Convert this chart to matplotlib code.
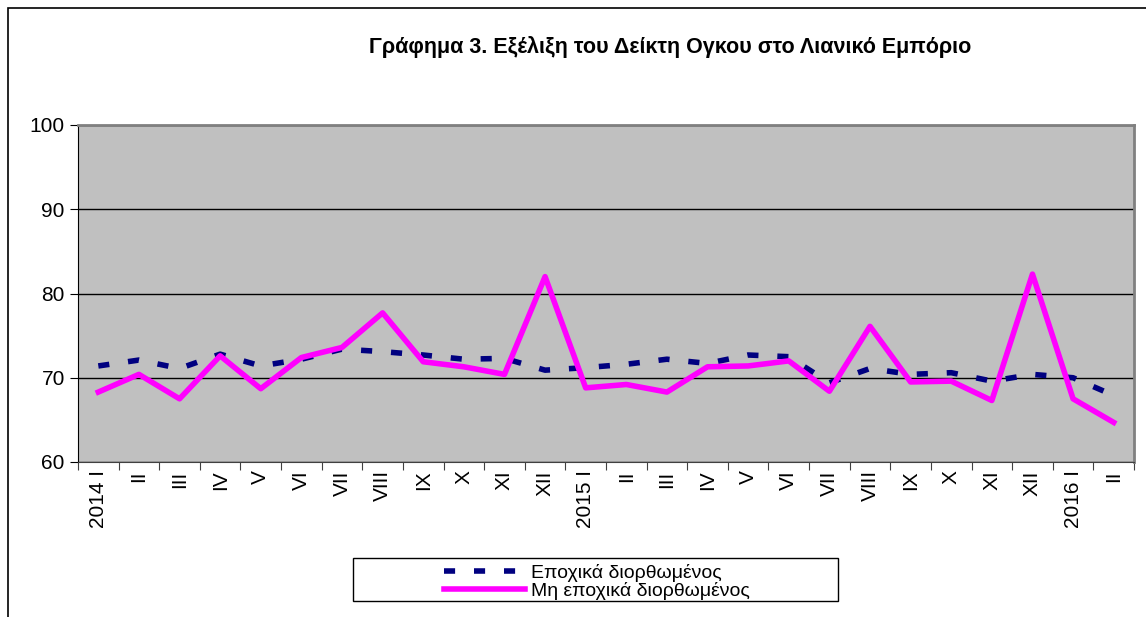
import matplotlib
matplotlib.use("Agg")
import matplotlib.pyplot as plt
from matplotlib.patches import Rectangle

plt.rcParams['font.family'] = ['Liberation Sans', 'DejaVu Sans']

months = ['I', 'II', 'III', 'IV', 'V', 'VI', 'VII', 'VIII', 'IX', 'X', 'XI', 'XII']
labels = ['2014 I'] + months[1:] + ['2015 I'] + months[1:] + ['2016 I', 'II']

# Εποχικά διορθωμένος
adjusted = [71.4, 72.1, 71.1, 72.8, 71.4, 72.2, 73.4, 73.1, 72.7, 72.2, 72.3, 70.9,
            71.2, 71.6, 72.2, 71.7, 72.7, 72.5, 69.4, 71.1, 70.4, 70.6, 69.6, 70.4,
            70.0, 67.9]
# Μη εποχικά διορθωμένος
unadjusted = [68.3, 70.4, 67.5, 72.6, 68.7, 72.4, 73.6, 77.7, 71.9, 71.3, 70.4, 82.0,
              68.8, 69.2, 68.3, 71.3, 71.4, 72.0, 68.4, 76.1, 69.5, 69.6, 67.3, 82.3,
              67.5, 64.7]

fig = plt.figure(figsize=(11.46, 6.17), dpi=100)
ax = fig.add_axes([78 / 1146, 1 - 462 / 617, 1056 / 1146, 337 / 617])
ax.set_facecolor('#c0c0c0')

x = list(range(len(labels)))
ax.plot(x, adjusted, color='#000080', lw=4, ls=(0, (2, 3.4)), label='Εποχικά διορθωμένος')
ax.plot(x, unadjusted, color='#ff00ff', lw=4, label='Μη εποχικά διορθωμένος')

ax.set_xlim(-0.5, len(labels) - 0.5)
ax.set_ylim(60, 100)
ax.set_yticks([60, 70, 80, 90, 100])
ax.yaxis.grid(True, color='black', lw=1)
ax.set_axisbelow(True)

ax.set_xticks([i - 0.5 for i in range(len(labels) + 1)])
ax.set_xticklabels([])
ax.set_xticks(x, minor=True)
ax.set_xticklabels(labels, minor=True, rotation=90, fontsize=15)
ax.tick_params(axis='x', which='major', length=6, direction='out', color='#404040')
ax.tick_params(axis='x', which='minor', length=0, pad=6)
ax.tick_params(axis='y', labelsize=15, length=6, color='black')

for s in ['top', 'right']:
    ax.spines[s].set_color('#808080')
    ax.spines[s].set_linewidth(2)
ax.spines['left'].set_color('black')
ax.spines['bottom'].set_color('#404040')

fig.text(0.585, 1 - 47 / 617, 'Γράφημα 3. Εξέλιξη του Δείκτη Ογκου στο Λιανικό Εμπόριο',
         ha='center', va='center', fontsize=15.5, fontweight='bold')

# legend entries without frame, box drawn separately
leg = ax.legend(loc='upper left', bbox_to_anchor=(434 / 1146, 1 - 554 / 617), bbox_transform=fig.transFigure,
                fontsize=14, frameon=False, handlelength=4.2, labelspacing=0.0,
                borderpad=0.0, handletextpad=0.3)
fig.patches.append(Rectangle((353 / 1146, 1 - 601 / 617), 485 / 1146, 43 / 617,
                             transform=fig.transFigure, fill=False, edgecolor='black', lw=1))

fig.patches.append(Rectangle((8 / 1146, -0.1), 1.2, 1 - 8 / 617 + 0.1, transform=fig.transFigure,
                             fill=False, edgecolor='black', lw=1.2))

fig.savefig('out.png', dpi=100)
